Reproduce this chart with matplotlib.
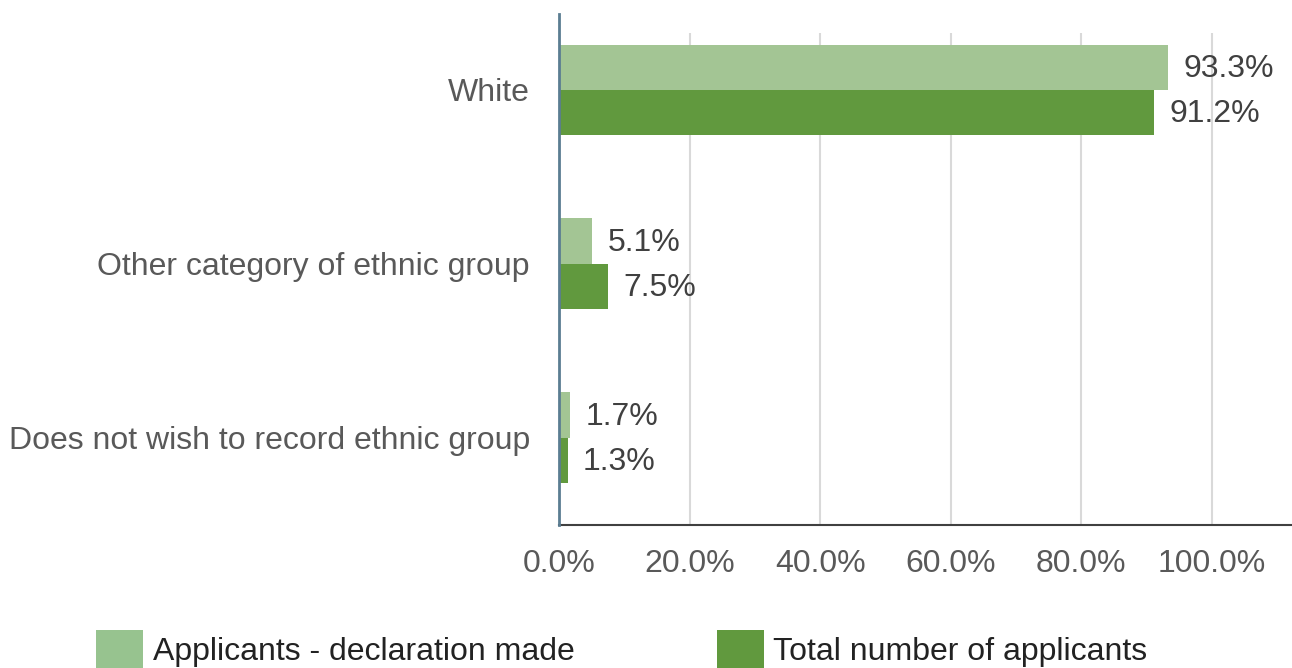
import matplotlib
matplotlib.use("Agg")
import matplotlib.pyplot as plt
from matplotlib.patches import Patch

plt.rcParams['font.family'] = ['Liberation Sans', 'DejaVu Sans']

# ethnic group breakdown of applicants (percent)
categories = ['White', 'Other category of ethnic group', 'Does not wish to record ethnic group']
declared = [93.3, 5.1, 1.7]
total = [91.2, 7.5, 1.3]
series_names = ['Applicants - declaration made', 'Total number of applicants']
xticks = [0, 20, 40, 60, 80, 100]

light = '#a3c594'
dark = '#61993e'
fs = 23

fig = plt.figure(figsize=(12.92, 6.68), dpi=100)
ax = fig.add_axes([0.4327, 0.2141, 0.5673, 0.7365])

h = 0.2615
ypos = list(range(len(categories)))
ax.barh([y - h / 2 for y in ypos], declared, height=h, color=light, zorder=2)
ax.barh([y + h / 2 for y in ypos], total, height=h, color=dark, zorder=2)

# value labels at the end of each bar
for y, v in zip(ypos, declared):
    ax.annotate(f'{v:.1f}%', (v, y - h / 2), xytext=(11, -1), textcoords='offset points',
                va='center', ha='left', fontsize=fs, color='#404040')
for y, v in zip(ypos, total):
    ax.annotate(f'{v:.1f}%', (v, y + h / 2), xytext=(11, -1), textcoords='offset points',
                va='center', ha='left', fontsize=fs, color='#404040')

ax.set_xlim(0, 112.3)
ax.set_ylim(2.5, -0.3276)
ax.set_xticks(xticks)
ax.set_xticklabels([f'{t:.1f}%' for t in xticks])
ax.set_yticks(ypos)
ax.set_yticklabels(categories)
ax.tick_params(axis='x', length=0, pad=17, labelsize=fs, labelcolor='#595959')
ax.tick_params(axis='y', length=0, pad=21, labelsize=fs, labelcolor='#595959')

ax.grid(axis='x', color='#d9d9d9', linewidth=1.5, zorder=0)
for side in ['top', 'right', 'left']:
    ax.spines[side].set_visible(False)
ax.spines['bottom'].set_color('#404040')
ax.spines['bottom'].set_linewidth(1.5)

# left axis line runs a little above the plot area
ax.plot([0, 0], [0, 1.0386], transform=ax.transAxes, color='#5b7d92',
        linewidth=2, clip_on=False, zorder=3)

handles = [Patch(facecolor='#97c38f'), Patch(facecolor=dark)]
fig.legend(handles, series_names, loc='upper left', bbox_to_anchor=(0.0743, 0.0569),
           ncol=2, frameon=False, fontsize=fs, borderpad=0, borderaxespad=0,
           handlelength=1.47, handleheight=1.5, handletextpad=0.3, columnspacing=4.46,
           labelcolor='#222222')

fig.savefig('out.png', dpi=100)
